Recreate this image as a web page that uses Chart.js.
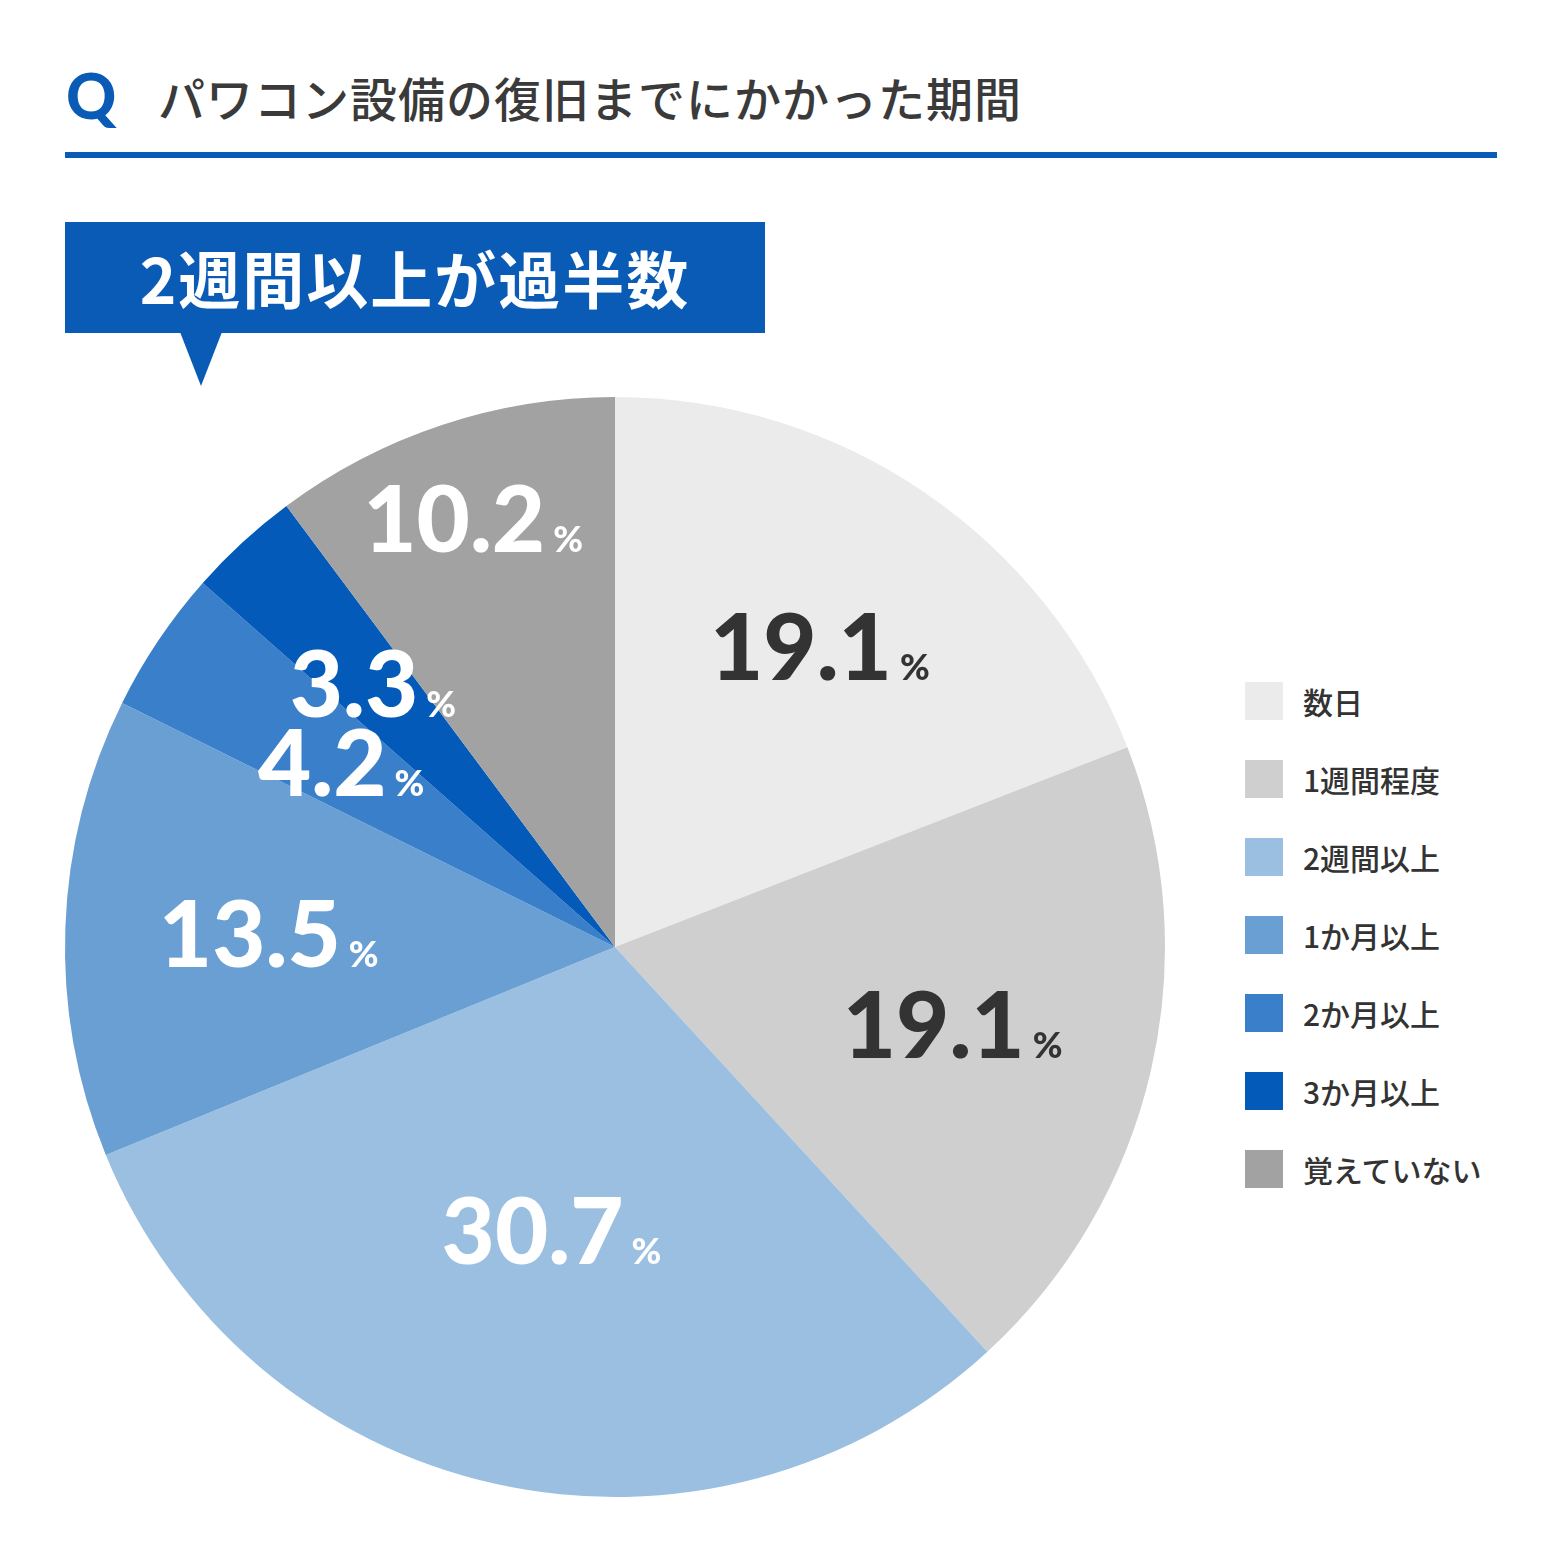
<!DOCTYPE html>
<html><head><meta charset="utf-8">
<script src="https://cdn.jsdelivr.net/npm/chart.js@4/dist/chart.umd.min.js"></script>
<style>
body{margin:0;width:1562px;height:1564px;background:#fff;position:relative;font-family:"Noto Sans CJK JP","Noto Sans",sans-serif;color:#333;overflow:hidden}
#q{position:absolute;left:66px;top:58px;font:900 62px Lato,"Noto Sans",sans-serif;color:#0a5bb5}
#title{position:absolute;left:158px;top:62px;font-size:47px;font-weight:500;letter-spacing:1px;color:#3a3a3a}
#rule{position:absolute;left:65px;top:152px;width:1432px;height:6px;background:#0a5bb5}
#callout{position:absolute;left:65px;top:222px;width:700px;height:111px;background:#0a5bb5;color:#fff;font-size:62px;font-weight:700;text-align:center;line-height:111px;letter-spacing:2px}
#tri{position:absolute;left:180px;top:332px;width:0;height:0;border-left:21px solid transparent;border-right:21px solid transparent;border-top:54px solid #0a5bb5}
#wrap{position:absolute;left:60px;top:391px;width:1110px;height:1112px}
#legend{position:absolute;left:1245px;top:681px}
.li{display:flex;align-items:center;height:78px;margin-top:0;font-size:30px;font-weight:500;color:#333}
.li span{display:inline-block;width:38px;height:38px;margin-right:20px}
.li:first-child{margin-top:0}
</style></head><body>
<div id="q">Q</div>
<div id="title">パワコン設備の復旧までにかかった期間</div>
<div id="rule"></div>
<div id="callout">2週間以上が過半数</div>
<div id="tri"></div>
<div id="wrap"><canvas id="c" width="1110" height="1112"></canvas></div>
<div id="legend"></div>
<script>
const categories = ['数日', '1週間程度', '2週間以上', '1か月以上', '2か月以上', '3か月以上', '覚えていない'];
const values = [19.1, 19.1, 30.7, 13.5, 4.2, 3.3, 10.2];
const colors = ['#ebebeb', '#cfcfcf', '#9bbfe1', '#6a9fd4', '#3a7fca', '#035ab8', '#a2a2a2'];
const labelColors = ['#333', '#333', '#fff', '#fff', '#fff', '#fff', '#fff'];
const labelRadius = [0.66, 0.63, 0.53, 0.63, 0.6, 0.65, 0.82];

const lg = document.getElementById('legend');
categories.forEach((c, i) => {
    lg.innerHTML += '<div class="li" style="margin-top:' + (i ? 0 : -19) + 'px"><span style="background:' + colors[i] + '"></span>' + c + '</div>';
});

const valueLabels = {
    id: 'valueLabels',
    afterDatasetsDraw(chart) {
        const ctx = chart.ctx;
        chart.getDatasetMeta(0).data.forEach((arc, i) => {
            const mid = (arc.startAngle + arc.endAngle) / 2;
            const r = arc.outerRadius * labelRadius[i];
            const x = arc.x + Math.cos(mid) * r;
            const y = arc.y + Math.sin(mid) * r;
            const num = values[i].toFixed(1);
            ctx.save();
            ctx.fillStyle = labelColors[i];
            ctx.textBaseline = 'alphabetic';
            ctx.font = '900 92px Lato, "Noto Sans", sans-serif';
            const w1 = ctx.measureText(num).width;
            ctx.font = '900 36px Lato, "Noto Sans", sans-serif';
            const w2 = ctx.measureText('%').width;
            const sx = x - (w1 + w2 + 8) / 2;
            ctx.font = '900 92px Lato, "Noto Sans", sans-serif';
            ctx.fillText(num, sx, y + 33);
            ctx.font = '900 36px Lato, "Noto Sans", sans-serif';
            ctx.fillText('%', sx + w1 + 8, y + 33);
            ctx.restore();
        });
    }
};

new Chart(document.getElementById('c'), {
    type: 'pie',
    data: {
        labels: categories,
        datasets: [{
            data: values,
            backgroundColor: colors,
            borderWidth: 0
        }]
    },
    options: {
        responsive: false,
        animation: false,
        layout: { padding: 5 },
        plugins: { legend: { display: false }, tooltip: { enabled: false } }
    },
    plugins: [valueLabels]
});
</script>
</body></html>
